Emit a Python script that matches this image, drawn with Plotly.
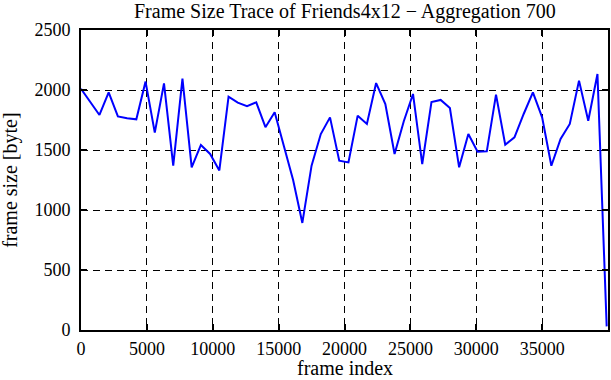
import plotly.graph_objects as go

frame_index = [i * 700 for i in range(58)]
frame_size = [
    2010, 1900, 1792, 1980, 1780, 1765, 1756, 2070, 1645, 2055,
    1370, 2095, 1356, 1542, 1467, 1330, 1944, 1895, 1866, 1897,
    1690, 1814, 1530, 1250, 892, 1370, 1633, 1772, 1411, 1397,
    1786, 1717, 2058, 1883, 1467, 1740, 1967, 1383, 1900, 1917,
    1850, 1356, 1633, 1486, 1489, 1961, 1544, 1606, 1800, 1981,
    1772, 1369, 1592, 1717, 2078, 1744, 2133, 30,
]
x_ticks = [0, 5000, 10000, 15000, 20000, 25000, 30000, 35000]
x_tick_labels = [str(v) for v in x_ticks]
y_ticks = [0, 500, 1000, 1500, 2000, 2500]
y_tick_labels = [str(v) for v in y_ticks]

title_text = "Frame Size Trace of Friends4x12 \u2212 Aggregation 700"
x_title = "frame index"
y_title = "frame size [byte]"

FONT = "Liberation Serif"

fig = go.Figure()
fig.add_trace(go.Scatter(
    x=frame_index, y=frame_size, mode="lines",
    line=dict(color="#0000ff", width=2),
    showlegend=False,
))

axis_common = dict(
    showline=True, linecolor="black", linewidth=2, mirror="ticks",
    ticks="inside", ticklen=6, tickcolor="black", tickwidth=1.5,
    showgrid=True, gridcolor="black", griddash="7px,5px", gridwidth=1,
    zeroline=False, automargin=False,
    tickfont=dict(family=FONT, size=18, color="black"),
)

fig.update_layout(
    width=611, height=380,
    margin=dict(l=81, r=3, t=30, b=50),
    plot_bgcolor="white", paper_bgcolor="white",
    xaxis=dict(
        range=[0, 40000], tickvals=x_ticks, ticktext=x_tick_labels,
        ticklabelstandoff=1,
        **axis_common,
    ),
    yaxis=dict(
        range=[0, 2500], tickvals=y_ticks, ticktext=y_tick_labels,
        ticklabelstandoff=5,
        **axis_common,
    ),
)

label_font = dict(family=FONT, size=20, color="black")
fig.add_annotation(text=title_text, xref="paper", yref="paper", x=0.5, y=1.061,
                   xanchor="center", yanchor="middle", showarrow=False, font=label_font)
fig.add_annotation(text=x_title, xref="paper", yref="paper", x=0.5, y=-0.127,
                   xanchor="center", yanchor="middle", showarrow=False, font=label_font)
fig.add_annotation(text=y_title, xref="paper", yref="paper", x=-0.135, y=0.5,
                   xanchor="center", yanchor="middle", showarrow=False, font=label_font,
                   textangle=-90)

fig.write_html("out.html", config={"displayModeBar": False},
               post_script="document.body.style.margin='0';")
